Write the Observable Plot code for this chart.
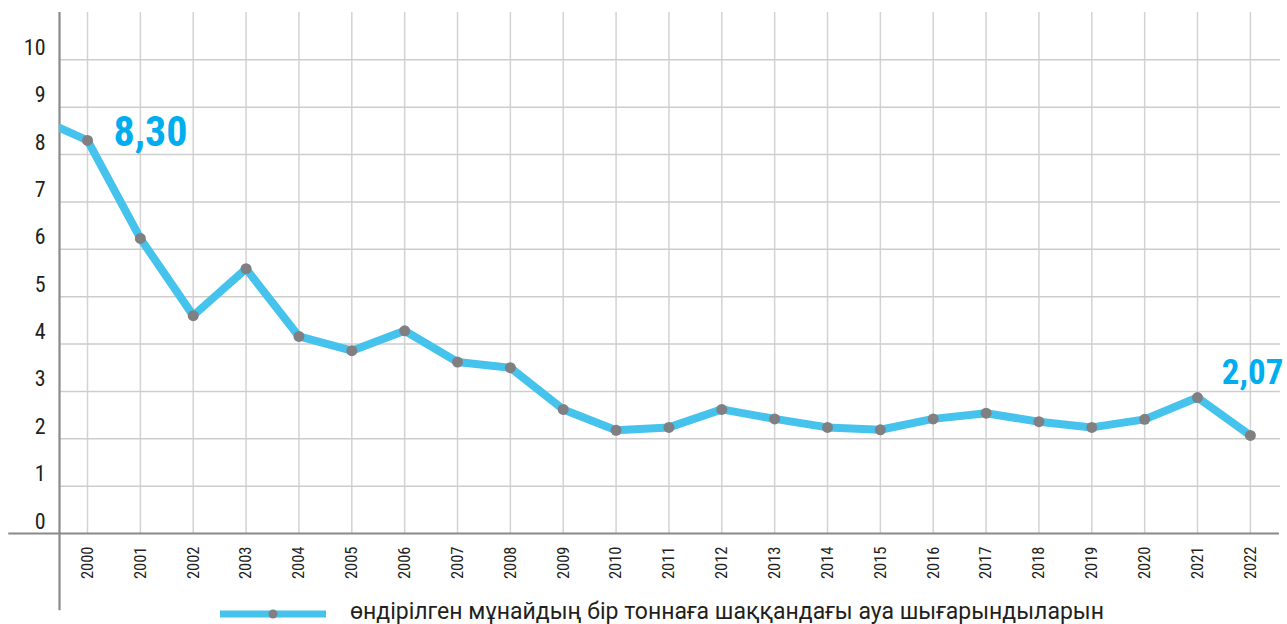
<!DOCTYPE html>
<html>
<head>
<meta charset="utf-8">
<script src="https://cdn.jsdelivr.net/npm/d3@7"></script>
<script src="https://cdn.jsdelivr.net/npm/@observablehq/plot@0.6"></script>
<style>
  html, body { margin: 0; padding: 0; background: #fff; }
  #chart svg { display: block; overflow: visible; }
  #legend { position: relative; height: 20px; font-family: Roboto, "Noto Sans", sans-serif; font-size: 23px; color: #231f20; }
  #legend svg { position: absolute; left: 218px; top: 0; }
  #legend span { position: absolute; left: 350px; top: -4px; line-height: 24px; white-space: nowrap; }
</style>
</head>
<body>
<div id="chart"></div>
<div id="legend"></div>
<script>
// ---- data ----
const years = [2000, 2001, 2002, 2003, 2004, 2005, 2006, 2007, 2008, 2009, 2010, 2011,
               2012, 2013, 2014, 2015, 2016, 2017, 2018, 2019, 2020, 2021, 2022];
const values = [8.30, 6.23, 4.60, 5.59, 4.16, 3.86, 4.28, 3.62, 3.50, 2.62, 2.18, 2.24,
                2.62, 2.42, 2.24, 2.19, 2.42, 2.54, 2.36, 2.24, 2.41, 2.87, 2.07];
// the line enters the chart from a previous year cut off at the left edge
const leadYear = 1999;
const leadValue = 8.8;
const yTicks = [0, 1, 2, 3, 4, 5, 6, 7, 8, 9, 10];
const callouts = [
  {year: 2000, value: 8.30, label: "8,30"},
  {year: 2022, value: 2.07, label: "2,07"}
];
const legendLabel = "өндірілген мұнайдың бір тоннаға шаққандағы ауа шығарындыларын";

// ---- build ----
const points = years.map((y, i) => ({year: y, value: values[i]}));
const linePoints = [{year: leadYear, value: leadValue}, ...points];
const xDomain = [1999.47, 2022.57];
const yDomain = [0, 11];
const narrow = "'Liberation Sans Narrow', 'Roboto Condensed', 'DejaVu Sans Condensed', sans-serif";
const lineColor = "#45c3ec";
const dotColor = "#808083";
const labelColor = "#00aeef";

const chart = Plot.plot({
  width: 1287,
  height: 604,
  marginLeft: 59,
  marginRight: 7,
  marginTop: 12,
  marginBottom: 71,
  style: {overflow: "visible", background: "#fff"},
  x: {type: "linear", domain: xDomain},
  y: {domain: yDomain},
  marks: [
    Plot.ruleX(years, {stroke: "#d3d3d3", strokeWidth: 1.5}),
    Plot.ruleY(yTicks.slice(1), {stroke: "#cdcdcd", strokeWidth: 1.5}),
    Plot.ruleY([0], {x1: 1998.51, x2: xDomain[1] - 0.02, stroke: "#8a8a8c", strokeWidth: 2}),
    Plot.ruleX([xDomain[0]], {y1: -1.63, y2: yDomain[1], stroke: "#8a8a8c", strokeWidth: 2.2}),
    Plot.axisY(yTicks, {
      tickSize: 0, tickPadding: 14, dy: -12,
      fontSize: 22, fontFamily: narrow, fill: "#231f20", label: null
    }),
    Plot.axisX(years, {
      tickSize: 0, tickRotate: -90, tickPadding: 13,
      tickFormat: d => String(d),
      fontSize: 16.5, fontFamily: narrow, fill: "#231f20", label: null
    }),
    Plot.line(linePoints, {x: "year", y: "value", stroke: lineColor, strokeWidth: 8,
      strokeLinejoin: "miter", strokeLinecap: "butt", clip: true}),
    Plot.dot(points, {x: "year", y: "value", r: 5.5, fill: dotColor, stroke: "none"}),
    Plot.text(callouts.slice(0, 1), {x: "year", y: "value", text: "label",
      textAnchor: "start", dx: 26, dy: -8, fontSize: 42, fontWeight: "bold",
      fontFamily: narrow, fill: labelColor}),
    Plot.text(callouts.slice(1), {x: "year", y: "value", text: "label",
      textAnchor: "end", dx: 33, dy: -63, fontSize: 35, fontWeight: "bold",
      fontFamily: narrow, fill: labelColor})
  ]
});
document.getElementById("chart").appendChild(chart);

// ---- legend ----
const leg = document.getElementById("legend");
const sw = d3.create("svg").attr("width", 110).attr("height", 20);
sw.append("line").attr("x1", 2).attr("x2", 108).attr("y1", 10).attr("y2", 10)
  .attr("stroke", lineColor).attr("stroke-width", 7);
sw.append("circle").attr("cx", 55).attr("cy", 10).attr("r", 4.5).attr("fill", dotColor);
leg.appendChild(sw.node());
const span = document.createElement("span");
span.textContent = legendLabel;
leg.appendChild(span);
</script>
</body>
</html>
